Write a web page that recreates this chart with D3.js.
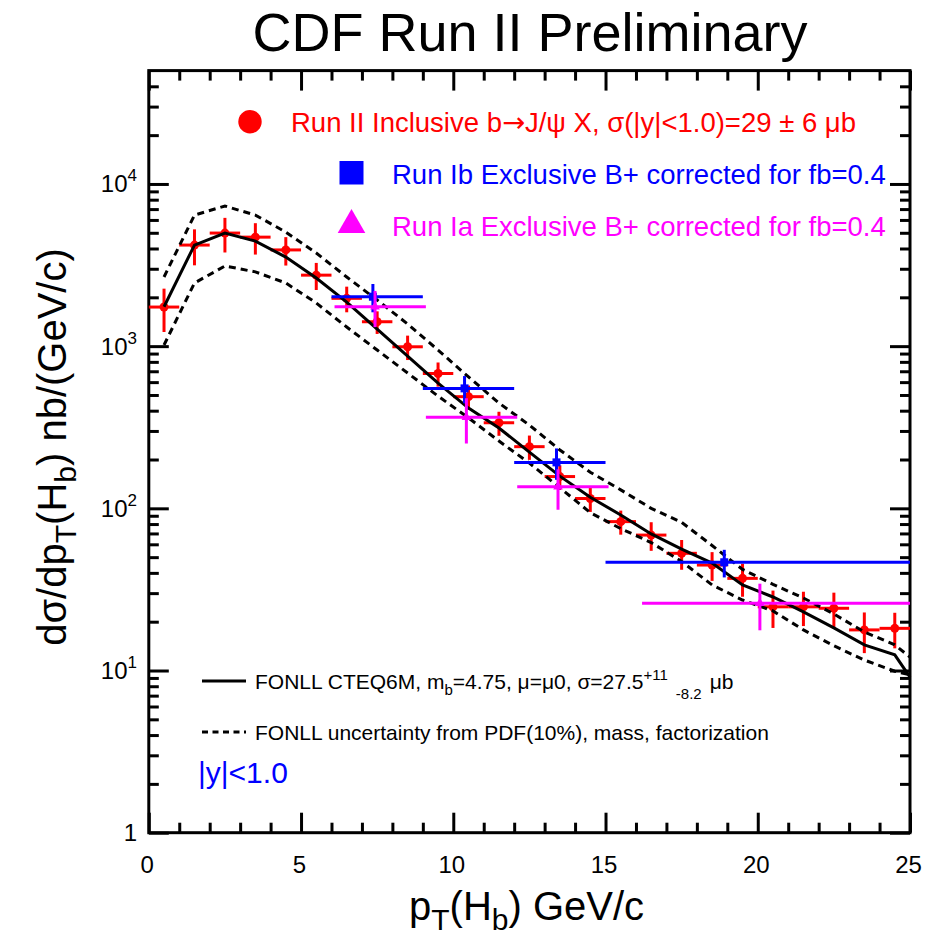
<!DOCTYPE html>
<html>
<head>
<meta charset="utf-8">
<script src="https://cdn.jsdelivr.net/npm/d3@7"></script>
<style>
  body { margin: 0; background: #fff; }
  text { font-family: "Liberation Sans", Arial, Helvetica, sans-serif; }
</style>
</head>
<body>
<svg id="chart" width="945" height="937"></svg>
<script>

// Run II inclusive b -> J/psi X (red), bin centres, 1 GeV wide bins
const runIIPt  = [0.5, 1.5, 2.5, 3.5, 4.5, 5.5, 6.5, 7.5, 8.5, 9.5, 10.5, 11.5, 12.5,
                  13.5, 14.5, 15.5, 16.5, 17.5, 18.5, 19.5, 20.5, 21.5, 22.5, 23.5, 24.5]
const runIIXs  = [1742, 4200, 4980, 4700, 3920, 2740, 1972, 1414, 991, 678, 488, 337, 240,
                  157, 115, 82.8, 68.4, 52.8, 44.7, 37, 24.7, 24.7, 24.2, 17.8, 18.2]
const runIIErr = [520, 1050, 1200, 1030, 780, 520, 355, 225, 170, 115, 83, 57, 41,
                  27, 20, 14, 13.7, 11, 9, 8.5, 6.4, 5.9, 6, 5, 4.5]

// Run Ib exclusive B+ (blue)
const runIbLo  = [6, 9, 12, 15]
const runIbHi  = [9, 12, 15, 25]
const runIbPt  = [7.36, 10.37, 13.39, 18.9]
const runIbXs  = [2017, 549, 192, 46.5]
const runIbErr = [400, 105, 42, 9]

// Run Ia exclusive B+ (magenta)
const runIaLo  = [6.1, 9.1, 12.1, 16.2]
const runIaHi  = [9.1, 12.1, 15.1, 25]
const runIaPt  = [7.43, 10.43, 13.44, 20.07]
const runIaXs  = [1750, 364, 136, 26]
const runIaErr = [440, 113, 38, 8.3]

// FONLL theory curves
const thPt      = [0.5, 1.5, 2.5, 3.5, 4.5, 5.5, 6.5, 7.5, 8.5, 9.5, 10.5, 11.5, 12.5,
                   13.5, 14.5, 15.5, 16.5, 17.5, 18.5, 19.5, 20.5, 21.5, 22.5, 23.5, 24.5, 25]
const thCentral = [1750, 4200, 4980, 4440, 3540, 2630, 1870, 1275, 869, 592, 415, 313, 222,
                   158, 117, 91, 69.5, 56, 46, 33.7, 28.4, 23, 18.3, 14.4, 12.5, 9.1]
const thUpper   = [2670, 6430, 7310, 6430, 5050, 3750, 2670, 1925, 1370, 946, 646, 446, 326,
                   229, 167, 130, 100, 82, 59, 42, 34, 28, 22.3, 17.3, 14.4, 12.1]
const thLower   = [1016, 2450, 3120, 2870, 2450, 1845, 1312, 946, 683, 492, 361, 260, 190,
                   134, 94, 75, 61.5, 47, 33.7, 27.2, 23.3, 17.8, 14.2, 11.6, 9.9, 9.4]

// axis ticks
const xMajor = [0, 5, 10, 15, 20, 25]
const yMajor = [1, 10, 100, 1000, 10000]


var svg = d3.select('#chart')

var xScale = d3.scaleLinear().domain([0, 25]).range([148.8, 910])
var yScale = d3.scaleLog().domain([1, 5e4]).range([832.7, 70.6])

var x0 = xScale(0), x1 = xScale(25), y0 = yScale(1), y1 = yScale(5e4)

// minor ticks
var xMinor = d3.range(0, 26).filter(d => d % 5 !== 0)
var yMinor = []
yMajor.forEach(function(p) {
    for (var m = 2; m <= 9; m++) {
        if (p * m < 5e4) yMinor.push(p * m)
    }
})

// ----- axes, ticks inward on all four sides
function drawAxis(gen, vals, size, tr) {
    var g = svg.append('g')
        .attr('transform', tr)
        .call(gen.tickValues(vals).tickSize(size).tickFormat(''))
    g.select('.domain').remove()
    g.selectAll('.tick line').attr('stroke', '#000').attr('stroke-width', 3)
}

drawAxis(d3.axisTop(xScale), xMajor, 20, 'translate(0,' + y0 + ')')
drawAxis(d3.axisTop(xScale), xMinor, 10, 'translate(0,' + y0 + ')')
drawAxis(d3.axisBottom(xScale), xMajor, 20, 'translate(0,' + y1 + ')')
drawAxis(d3.axisBottom(xScale), xMinor, 10, 'translate(0,' + y1 + ')')
drawAxis(d3.axisRight(yScale), yMajor, 20, 'translate(' + x0 + ',0)')
drawAxis(d3.axisRight(yScale), yMinor, 10, 'translate(' + x0 + ',0)')
drawAxis(d3.axisLeft(yScale), yMajor, 20, 'translate(' + x1 + ',0)')
drawAxis(d3.axisLeft(yScale), yMinor, 10, 'translate(' + x1 + ',0)')

svg.append('rect')
    .attr('x', x0).attr('y', y1)
    .attr('width', x1 - x0).attr('height', y0 - y1)
    .attr('fill', 'none').attr('stroke', '#000').attr('stroke-width', 3)

// tick labels
svg.append('g').selectAll('text')
    .data(xMajor)
    .enter().append('text')
    .attr('x', d => xScale(d) - 1.5)
    .attr('y', 873)
    .attr('text-anchor', 'middle')
    .attr('font-size', 24)
    .text(d => d)

svg.append('g').selectAll('text')
    .data(yMajor)
    .enter().append('text')
    .attr('x', 137)
    .attr('y', d => yScale(d) + 8.5)
    .attr('text-anchor', 'end')
    .attr('font-size', 24)
    .each(function(d) {
        var t = d3.select(this)
        if (d === 1) { t.text('1'); return }
        t.append('tspan').text('10')
        t.append('tspan').attr('dy', -11).attr('font-size', 17).text(Math.round(Math.log10(d)))
    })

// ----- data
var data_layer = svg.append('g')

function crosses(pts, lo, hi, xs, err, colour) {
    var g = data_layer.append('g')
    pts.forEach(function(p, i) {
        g.append('line')
            .attr('x1', xScale(lo[i])).attr('x2', xScale(hi[i]))
            .attr('y1', yScale(xs[i])).attr('y2', yScale(xs[i]))
            .attr('stroke', colour).attr('stroke-width', 3)
        g.append('line')
            .attr('x1', xScale(p)).attr('x2', xScale(p))
            .attr('y1', yScale(xs[i] - err[i])).attr('y2', yScale(xs[i] + err[i]))
            .attr('stroke', colour).attr('stroke-width', 3)
    })
    return g
}

var red = crosses(runIIPt, runIIPt.map(d => d - 0.5), runIIPt.map(d => d + 0.5), runIIXs, runIIErr, '#ff0000')
red.selectAll('circle')
    .data(runIIPt)
    .enter().append('circle')
    .attr('cx', d => xScale(d))
    .attr('cy', (d, i) => yScale(runIIXs[i]))
    .attr('r', 4.5)
    .attr('fill', '#ff0000')

// theory lines
var line = d3.line()
    .x(d => xScale(d[0]))
    .y(d => yScale(d[1]))

data_layer.append('path')
    .datum(thPt.map((p, i) => [p, thUpper[i]]))
    .attr('d', line)
    .attr('fill', 'none').attr('stroke', '#000').attr('stroke-width', 3)
    .attr('stroke-dasharray', '7,5')

data_layer.append('path')
    .datum(thPt.map((p, i) => [p, thLower[i]]))
    .attr('d', line)
    .attr('fill', 'none').attr('stroke', '#000').attr('stroke-width', 3)
    .attr('stroke-dasharray', '7,5')

data_layer.append('path')
    .datum(thPt.map((p, i) => [p, thCentral[i]]))
    .attr('d', line)
    .attr('fill', 'none').attr('stroke', '#000').attr('stroke-width', 3)

var blue = crosses(runIbPt, runIbLo, runIbHi, runIbXs, runIbErr, '#0000ff')
blue.selectAll('rect')
    .data(runIbPt)
    .enter().append('rect')
    .attr('x', d => xScale(d) - 4)
    .attr('y', (d, i) => yScale(runIbXs[i]) - 4)
    .attr('width', 8).attr('height', 8)
    .attr('fill', '#0000ff')

var magenta = crosses(runIaPt, runIaLo, runIaHi, runIaXs, runIaErr, '#ff00ff')
magenta.selectAll('path')
    .data(runIaPt)
    .enter().append('path')
    .attr('d', d3.symbol(d3.symbolTriangle, 40))
    .attr('transform', (d, i) => 'translate(' + xScale(d) + ',' + yScale(runIaXs[i]) + ')')
    .attr('fill', '#ff00ff')

// ----- legend (top)
svg.append('circle').attr('cx', 250).attr('cy', 121.7).attr('r', 11.7).attr('fill', '#ff0000')
var rl = svg.append('text').attr('x', 291).attr('y', 132).attr('font-size', 27.5).attr('fill', '#ff0000')
rl.append('tspan').text('Run II Inclusive b')
rl.append('tspan').attr('font-family', '"DejaVu Sans"').text('\u2192')
rl.append('tspan').text('J/\u03c8 X, \u03c3(|y|<1.0)=29 \u00b1 6 \u03bcb')

svg.append('rect').attr('x', 339.5).attr('y', 161).attr('width', 24).attr('height', 23.5).attr('fill', '#0000ff')
svg.append('text').attr('x', 392).attr('y', 183.5).attr('font-size', 27.5).attr('fill', '#0000ff')
    .text('Run Ib Exclusive B+ corrected for fb=0.4')

svg.append('path')
    .attr('d', d3.symbol(d3.symbolTriangle, 330))
    .attr('transform', 'translate(351.5,225)')
    .attr('fill', '#ff00ff')
svg.append('text').attr('x', 392).attr('y', 235.5).attr('font-size', 27.5).attr('fill', '#ff00ff')
    .text('Run Ia Exclusive B+ corrected for fb=0.4')

// ----- legend (bottom)
svg.append('line').attr('x1', 202).attr('x2', 246).attr('y1', 681).attr('y2', 681)
    .attr('stroke', '#000').attr('stroke-width', 3)
var th = svg.append('text').attr('x', 255).attr('y', 689).attr('font-size', 21)
th.append('tspan').text('FONLL CTEQ6M, m')
th.append('tspan').attr('dy', 6).attr('font-size', 15).text('b')
th.append('tspan').attr('dy', -6).text('=4.75, \u03bc=\u03bc0, \u03c3=27.5')
th.append('tspan').attr('dy', -9).attr('font-size', 15).text('+11')
th.append('tspan').attr('dy', 19).attr('font-size', 15).attr('dx', 8).text('-8.2')
th.append('tspan').attr('dy', -10).attr('dx', 8).text('\u03bcb')

svg.append('line').attr('x1', 202).attr('x2', 246).attr('y1', 732).attr('y2', 732)
    .attr('stroke', '#000').attr('stroke-width', 3).attr('stroke-dasharray', '6,4.5')
svg.append('text').attr('x', 255).attr('y', 740).attr('font-size', 21)
    .text('FONLL uncertainty from PDF(10%), mass, factorization')

svg.append('text').attr('x', 198).attr('y', 783).attr('font-size', 30).attr('fill', '#0000ff')
    .text('|y|<1.0')

// ----- titles
svg.append('text').attr('x', 530).attr('y', 51).attr('text-anchor', 'middle').attr('font-size', 54)
    .text('CDF Run II Preliminary')

var xt = svg.append('text').attr('x', 409).attr('y', 920).attr('font-size', 40)
xt.append('tspan').text('p')
xt.append('tspan').attr('dy', 10).attr('font-size', 30).text('T')
xt.append('tspan').attr('dy', -10).text('(H')
xt.append('tspan').attr('dy', 10).attr('font-size', 30).text('b')
xt.append('tspan').attr('dy', -10).text(') GeV/c')

var yt = svg.append('text')
    .attr('transform', 'translate(66,447) rotate(-90)')
    .attr('text-anchor', 'middle')
    .attr('font-size', 40)
yt.append('tspan').text('d\u03c3/dp')
yt.append('tspan').attr('dy', 10).attr('font-size', 30).text('T')
yt.append('tspan').attr('dy', -10).text('(H')
yt.append('tspan').attr('dy', 10).attr('font-size', 30).text('b')
yt.append('tspan').attr('dy', -10).text(') nb/(GeV/c)')

</script>
</body>
</html>
